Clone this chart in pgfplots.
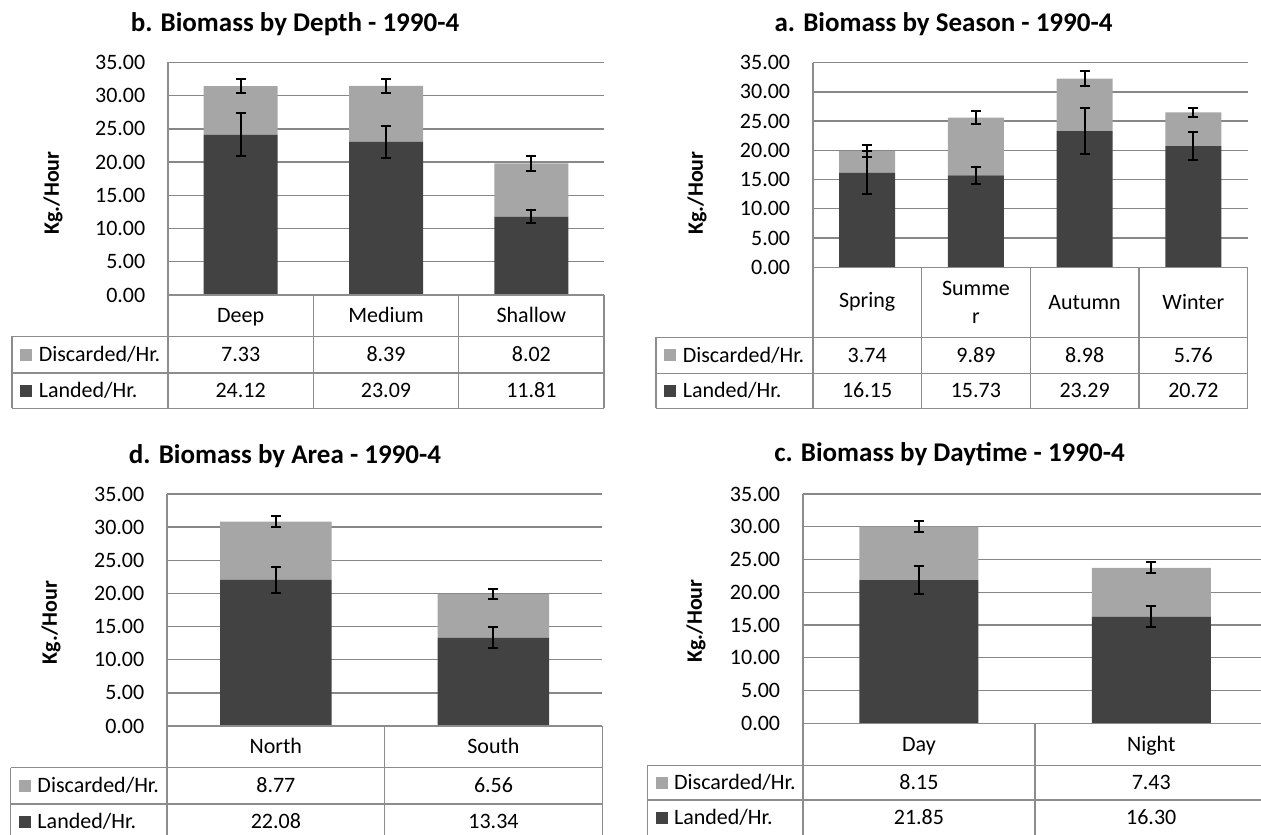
\documentclass[border=0pt]{standalone}
\usepackage{fontspec}
\setmainfont{Carlito}
\usepackage{pgfplots}
\usepackage{pgfplotstable}
\pgfplotsset{compat=1.18}

\definecolor{landgray}{HTML}{424242}
\definecolor{discgray}{HTML}{A6A6A6}
\definecolor{gridc}{HTML}{878787}
\definecolor{tabc}{HTML}{8C8C8C}

% landed and discarded kg/hour, with error bar half-lengths
\pgfplotstableread{
x land  lerr disc derr
0 24.12 3.27 7.33 1.05
1 23.09 2.40 8.39 1.00
2 11.81 0.95 8.02 1.10
}\depthtab
\pgfplotstableread{
x land  lerr disc derr
0 16.15 3.66 3.74 0.95
1 15.73 1.45 9.89 1.05
2 23.29 3.90 8.98 1.30
3 20.72 2.45 5.76 0.80
}\seasontab
\pgfplotstableread{
x land  lerr disc derr
0 22.08 1.95 8.77 0.88
1 13.34 1.60 6.56 0.78
}\areatab
\pgfplotstableread{
x land  lerr disc derr
0 21.85 2.13 8.15 0.84
1 16.30 1.60 7.43 0.84
}\daytab

\newcommand{\txt}{\fontsize{22bp}{28.3bp}\selectfont}
\newcommand{\ttl}{\fontsize{27bp}{32bp}\selectfont\bfseries}

\pgfplotsset{
  biomass/.style={
    scale only axis, ybar stacked, clip=false,
    ymin=0, ymax=35, ytick={0,5,...,35},
    enlargelimits=false,
    xtick=data,
    axis line style={draw=none},
    major tick length=0pt,
    ymajorgrids,
    major grid style={draw=gridc, line width=1.3bp},
    /pgf/number format/assume math mode=true,
    yticklabel style={/pgf/number format/fixed, /pgf/number format/fixed zerofill,
      /pgf/number format/precision=2, anchor=east, inner sep=0pt, xshift=-22.5bp, font=\txt},
    xticklabel style={font=\txt, anchor=base, inner sep=0pt, align=center},
  },
  errbars/.style={draw=none, fill=none,
    error bars/.cd, y dir=both, y explicit, error mark=|,
    error bar style={draw=black, line width=2bp},
    error mark options={draw=black, line width=2bp, mark size=5bp}},
  panelB/.style={at={(168bp,540bp)}, anchor=south west, width=436bp, height=232.5bp,
    xmin=-0.5, xmax=2.5, bar width=74bp},
  panelA/.style={at={(812.8bp,567.7bp)}, anchor=south west, width=434.9bp, height=204.6bp,
    xmin=-0.5, xmax=3.5, bar width=56bp},
  panelD/.style={at={(167bp,109bp)}, anchor=south west, width=435.3bp, height=232bp,
    xmin=-0.5, xmax=1.5, bar width=111.5bp},
  panelC/.style={at={(802.8bp,111.7bp)}, anchor=south west, width=464.6bp, height=229.3bp,
    xmin=-0.5, xmax=1.5, bar width=119bp},
}

\newcommand{\legrows}[3]{% table left x, centre of discarded row, centre of landed row
  \fill[fill=discgray] (#1+8.3,#2-6) rectangle ++(12,12);
  \node[anchor=base west, inner sep=0pt, font=\txt] at (#1+26.6,#2-7.1) {Discarded/Hr.};
  \fill[fill=landgray] (#1+8.3,#3-6) rectangle ++(12,12);
  \node[anchor=base west, inner sep=0pt, font=\txt] at (#1+26.6,#3-7.1) {Landed/Hr.};
}
\newcommand{\cell}[3]{\node[anchor=base, inner sep=0pt, font=\txt] at (#1,#2-7.1) {#3};}

\begin{document}
\begin{tikzpicture}[x=1bp, y=1bp, tab/.style={draw=tabc, line width=1.5bp}]
\useasboundingbox (0,0) rectangle (1261,835);

%% b. depth
\begin{axis}[biomass, panelB, xticklabels={Deep,Medium,Shallow}, xticklabel style={yshift=-27.85bp}]
\addplot[fill=landgray, draw=none] table[x=x, y=land] {\depthtab};
\addplot[fill=discgray, draw=none] table[x=x, y=disc] {\depthtab};
\end{axis}
\begin{axis}[biomass, panelB, hide axis]
\addplot[errbars] table[x=x, y=land, y error=lerr] {\depthtab};
\addplot[errbars] table[x=x, y=disc, y error=derr] {\depthtab};
\end{axis}
\node[anchor=base, font=\ttl] at (295,803.3) {b. Biomass by Depth - 1990-4};
\node[rotate=90, font=\txt\bfseries] at (53,642) {Kg./Hour};
\draw[tab] (168,540) -- (604,540) (12,498.5) -- (604,498.5) (12,462) -- (604,462) (12,426.5) -- (604,426.5);
\draw[tab] (12,498.5) -- (12,426.5) (168,772.5) -- (168,426.5);
\foreach \x in {313.3,458.7,604} \draw[tab] (\x,540) -- (\x,426.5);
\legrows{12}{480.25}{444.25}
\cell{240.65}{480.25}{7.33} \cell{386}{480.25}{8.39} \cell{531.35}{480.25}{8.02}
\cell{240.65}{444.25}{24.12} \cell{386}{444.25}{23.09} \cell{531.35}{444.25}{11.81}

%% a. season
\begin{axis}[biomass, panelA, xticklabels={Spring,{Summe\\r},Autumn,Winter},
  xticklabel style={anchor=center, yshift=-35bp}]
\addplot[fill=landgray, draw=none] table[x=x, y=land] {\seasontab};
\addplot[fill=discgray, draw=none] table[x=x, y=disc] {\seasontab};
\end{axis}
\begin{axis}[biomass, panelA, hide axis]
\addplot[errbars] table[x=x, y=land, y error=lerr] {\seasontab};
\addplot[errbars] table[x=x, y=disc, y error=derr] {\seasontab};
\end{axis}
\node[anchor=base, font=\ttl] at (943.5,803.3) {a. Biomass by Season - 1990-4};
\node[rotate=90, font=\txt\bfseries] at (697,642) {Kg./Hour};
\draw[tab] (812.8,567.7) -- (1247.7,567.7) (656,497.7) -- (1247.7,497.7) (656,461.7) -- (1247.7,461.7) (656,426.7) -- (1247.7,426.7);
\draw[tab] (656,497.7) -- (656,426.7) (812.8,772.3) -- (812.8,426.7);
\foreach \x in {921.5,1030.3,1139,1247.7} \draw[tab] (\x,567.7) -- (\x,426.7);
\legrows{656}{479.7}{444.2}
\cell{867.15}{479.7}{3.74} \cell{975.9}{479.7}{9.89} \cell{1084.65}{479.7}{8.98} \cell{1193.35}{479.7}{5.76}
\cell{867.15}{444.2}{16.15} \cell{975.9}{444.2}{15.73} \cell{1084.65}{444.2}{23.29} \cell{1193.35}{444.2}{20.72}

%% d. area
\begin{axis}[biomass, panelD, xticklabels={North,South}, xticklabel style={yshift=-27.95bp}]
\addplot[fill=landgray, draw=none] table[x=x, y=land] {\areatab};
\addplot[fill=discgray, draw=none] table[x=x, y=disc] {\areatab};
\end{axis}
\begin{axis}[biomass, panelD, hide axis]
\addplot[errbars] table[x=x, y=land, y error=lerr] {\areatab};
\addplot[errbars] table[x=x, y=disc, y error=derr] {\areatab};
\end{axis}
\node[anchor=base, font=\ttl] at (285,371.7) {d. Biomass by Area - 1990-4};
\node[rotate=90, font=\txt\bfseries] at (51,212.5) {Kg./Hour};
\draw[tab] (167,109) -- (602.3,109) (10.7,67.3) -- (602.3,67.3) (10.7,31.2) -- (602.3,31.2) (10.7,-5) -- (602.3,-5);
\draw[tab] (10.7,67.3) -- (10.7,-5) (167,341) -- (167,-5);
\foreach \x in {384.7,602.3} \draw[tab] (\x,109) -- (\x,-5);
\legrows{10.7}{49.25}{13.1}
\cell{275.85}{49.25}{8.77} \cell{493.5}{49.25}{6.56}
\cell{275.85}{13.1}{22.08} \cell{493.5}{13.1}{13.34}

%% c. daytime
\begin{axis}[biomass, panelC, xticklabels={Day,Night}, xticklabel style={yshift=-28.1bp}]
\addplot[fill=landgray, draw=none] table[x=x, y=land] {\daytab};
\addplot[fill=discgray, draw=none] table[x=x, y=disc] {\daytab};
\end{axis}
\begin{axis}[biomass, panelC, hide axis]
\addplot[errbars] table[x=x, y=land, y error=lerr] {\daytab};
\addplot[errbars] table[x=x, y=disc, y error=derr] {\daytab};
\end{axis}
\node[anchor=base, font=\ttl] at (949.5,373.3) {c. Biomass by Daytime - 1990-4};
\node[rotate=90, font=\txt\bfseries] at (696,214) {Kg./Hour};
\draw[tab] (802.8,111.7) -- (1267.4,111.7) (647.3,69.7) -- (1267.4,69.7) (647.3,35) -- (1267.4,35) (647.3,-0.7) -- (1267.4,-0.7);
\draw[tab] (647.3,69.7) -- (647.3,-0.7) (802.8,341) -- (802.8,-0.7);
\foreach \x in {1035.1,1267.4} \draw[tab] (\x,111.7) -- (\x,-0.7);
\legrows{647.3}{52.35}{17.15}
\cell{918.95}{52.35}{8.15} \cell{1151.25}{52.35}{7.43}
\cell{918.95}{17.15}{21.85} \cell{1151.25}{17.15}{16.30}
\end{tikzpicture}
\end{document}
